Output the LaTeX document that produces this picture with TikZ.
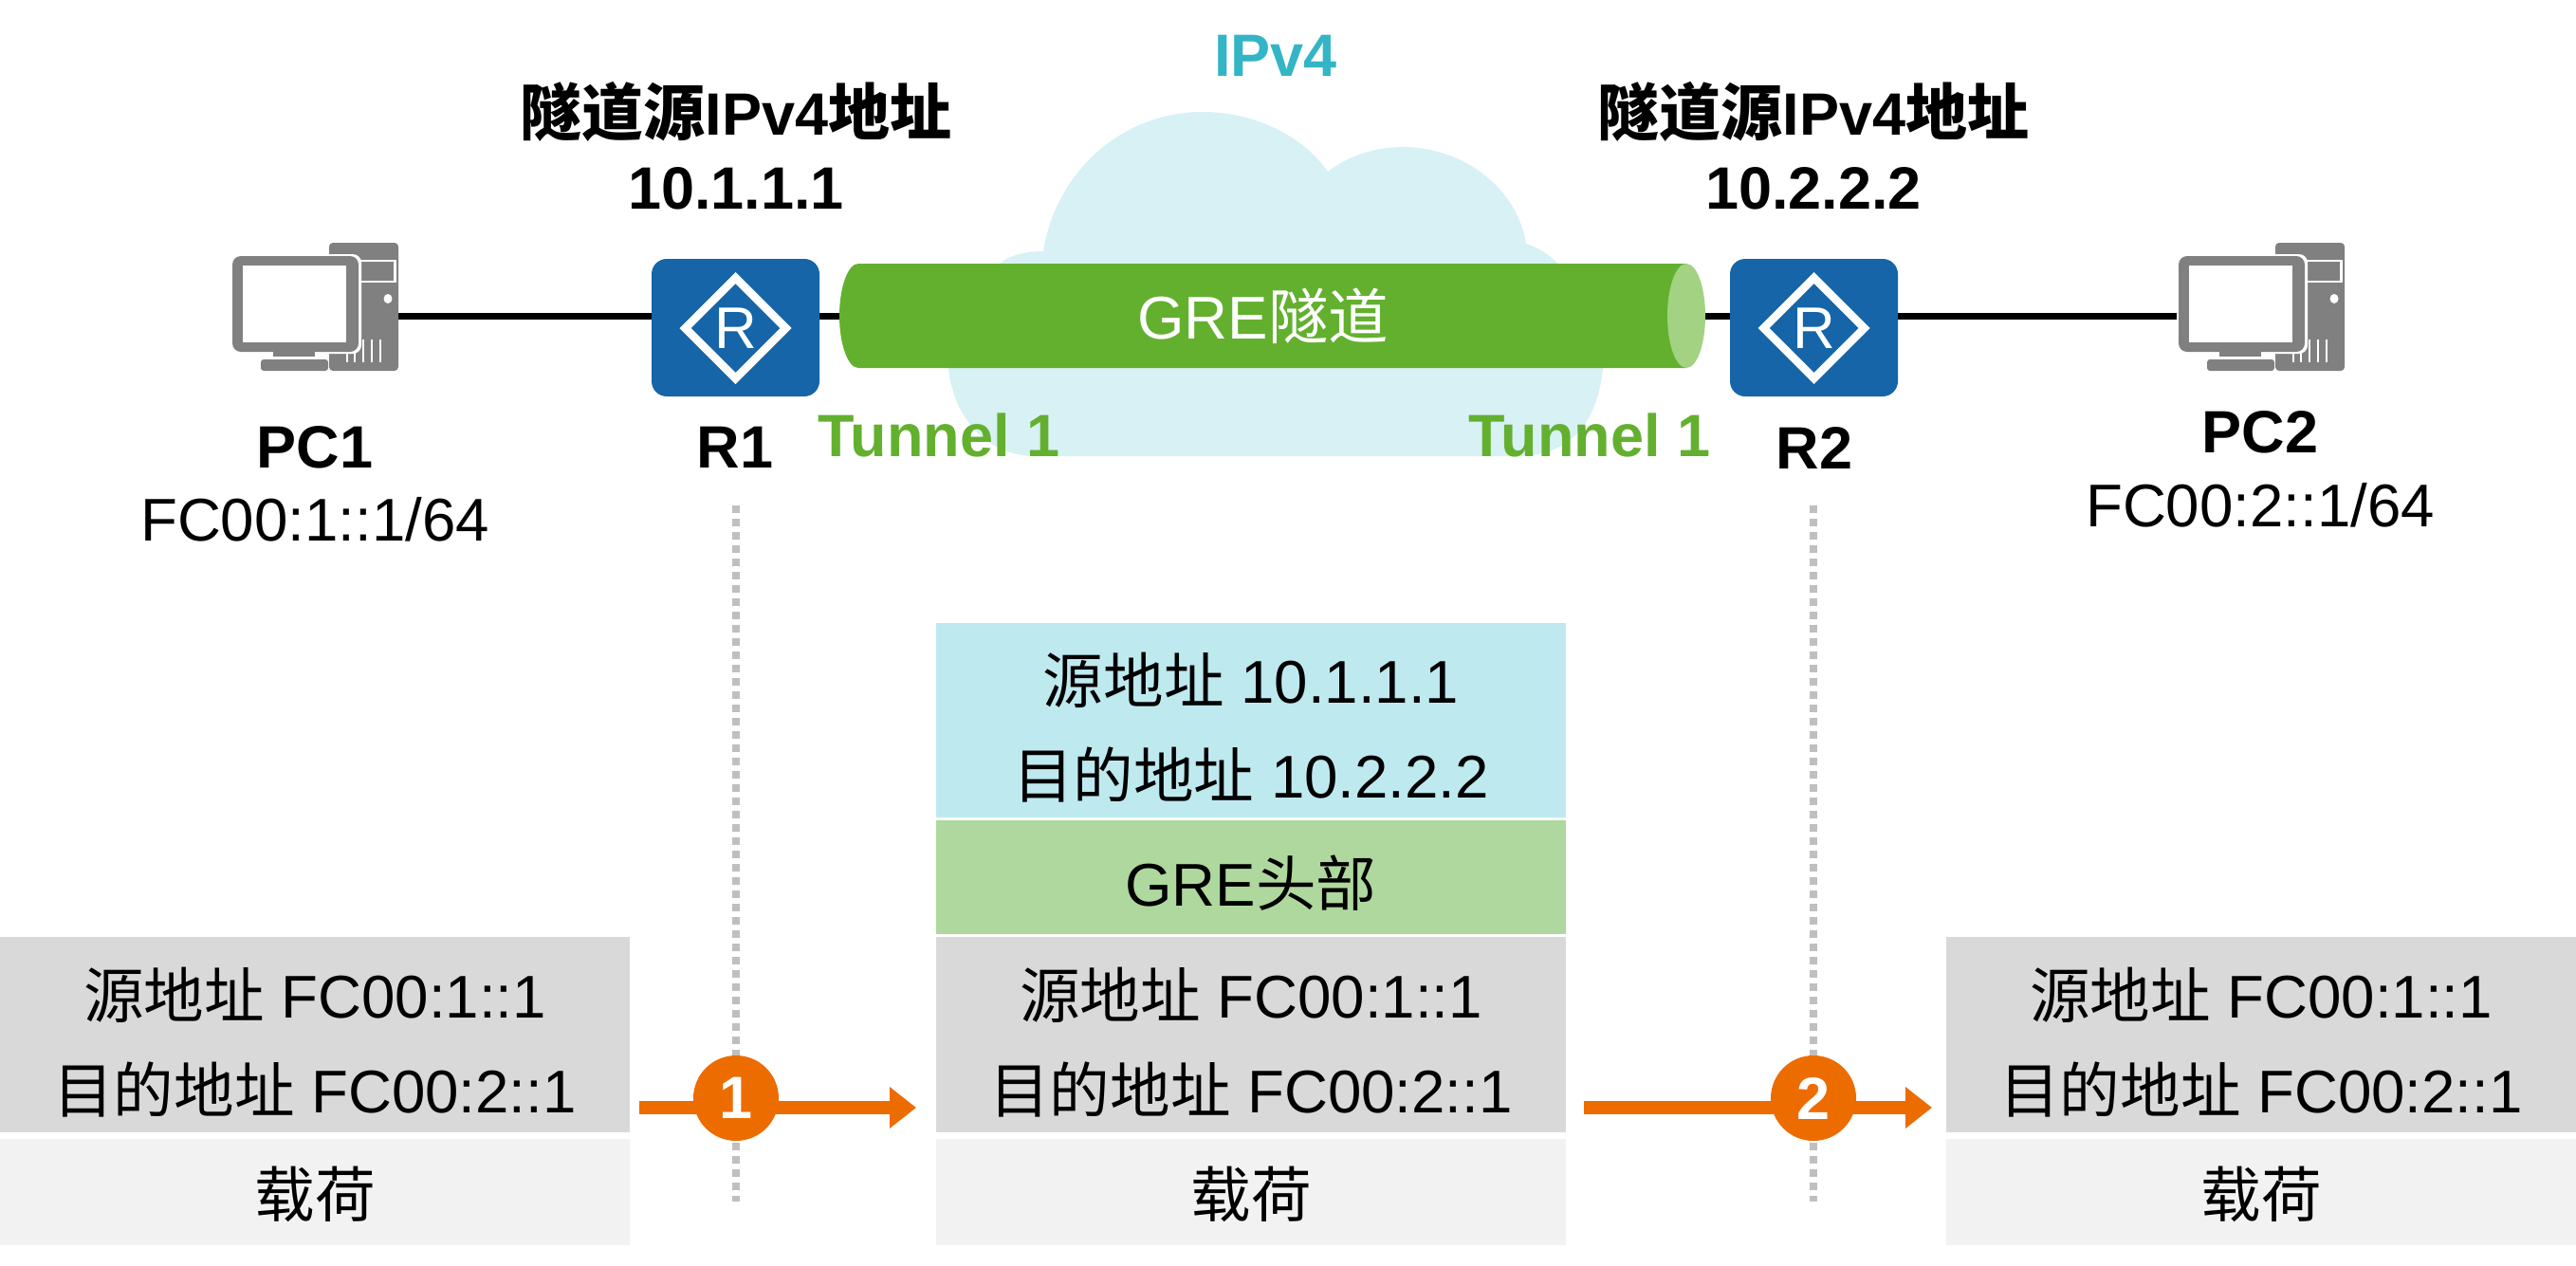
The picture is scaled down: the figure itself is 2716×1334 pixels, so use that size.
\documentclass[tikz,border=0pt]{standalone}
\usepackage{fontspec}
\setmainfont{Liberation Sans}
\newfontfamily\cjk{Noto Sans CJK SC}
\newcommand{\zh}[1]{{\cjk #1}}
\newcommand{\zhb}[1]{{\fontsize{65}{78}\selectfont\cjk #1}}
\usetikzlibrary{arrows.meta}
\definecolor{cloudc}{HTML}{D7F1F5}
\definecolor{tubec}{HTML}{63B02F}
\definecolor{tubeend}{HTML}{A3D283}
\definecolor{routerc}{HTML}{1565A8}
\definecolor{pcc}{HTML}{808080}
\definecolor{ipc}{HTML}{33B5C6}
\definecolor{hdrblue}{HTML}{BEE9EF}
\definecolor{hdrgreen}{HTML}{AED89E}
\definecolor{hdrgray}{HTML}{D9D9D9}
\definecolor{paylc}{HTML}{F2F2F2}
\definecolor{orangec}{HTML}{ED6C00}
\definecolor{dotc}{HTML}{BFBFBF}
\tikzset{
  txt/.style={inner sep=0pt,font=\fontsize{63.6}{100}\selectfont,align=center},
  boldtxt/.style={txt,font=\fontsize{63}{78}\selectfont\bfseries},
  tunnellabel/.style={boldtxt,text=tubec},
  cell/.style={inner sep=0pt,minimum width=664pt,outer sep=0pt,anchor=north},
  link/.style={line width=7pt,black},
  guide/.style={line width=8pt,dotc,dash pattern=on 8pt off 6pt},
  flow/.style={line width=14pt,orangec,-{Triangle[length=28pt,width=42pt]}},
  stepmark/.style={circle,fill=orangec,text=white,minimum size=90pt,inner sep=0pt,font=\fontsize{63}{70}\selectfont\bfseries},
  routerbox/.style={fill=routerc,rounded corners=16pt,minimum width=177pt,minimum height=145pt,inner sep=0pt},
}
\newcommand{\pcicon}[1]{%
  \begin{scope}[shift={(#1,0)}]
    \fill[pcc,rounded corners=4pt] (347,256) rectangle (420,391);
    \draw[white,line width=2.5pt] (378,275) rectangle (416.5,297);
    \fill[white] (409,315) ellipse [x radius=4.5,y radius=5];
    \foreach \vx in {366,374,383,392,401}{\draw[white,line width=2pt] (\vx,358) -- (\vx,382);}
    \fill[white,rounded corners=9pt] (243,268) rectangle (381,373);
    \fill[pcc,rounded corners=9pt] (245,270) rectangle (378,371);
    \fill[white] (256,280) rectangle (365,361);
    \fill[pcc] (288,371) rectangle (332,376);
    \fill[pcc,rounded corners=3pt] (275,391) -- (275,379) -- (346,379) -- (346,391) -- cycle;
  \end{scope}
}
\newcommand{\routericon}[2]{%
  \node[routerbox] (#2) at (#1,345.5) {};
  \draw[white,line width=8.5pt,miter limit=10] (#1-53,346) -- (#1,293) -- (#1+53,346) -- (#1,399) -- cycle;
  \node[inner sep=0pt,text=white,font=\fontsize{62}{62}\selectfont] at (#1,346) {R};
}
\begin{document}
\begin{tikzpicture}[x=1pt,y=-1pt]
\useasboundingbox (0,0) rectangle (2716,1334);
% cloud
\fill[cloudc] (1100,265) .. controls (1112,185) and (1180,118) .. (1268,118)
  .. controls (1325,118) and (1375,145) .. (1400,181)
  .. controls (1420,165) and (1450,155) .. (1478,155)
  .. controls (1545,155) and (1600,200) .. (1609,257)
  .. controls (1635,265) and (1650,285) .. (1660,300)
  .. controls (1680,320) and (1692,350) .. (1690,388)
  .. controls (1685,440) and (1660,481) .. (1600,481)
  -- (1092,481)
  .. controls (1040,481) and (1005,440) .. (1000,388)
  .. controls (1000,340) and (1030,300) .. (1054,278)
  .. controls (1065,268) and (1085,265) .. (1100,265) -- cycle;
% access links, behind the icons
\coordinate (pca) at (420,333);
\coordinate (raw) at (687,333);
\coordinate (rae) at (864,333);
\coordinate (tubew) at (885,333);
\coordinate (tubee) at (1798,333);
\coordinate (rbw) at (1824,333);
\coordinate (rbe) at (2001,333);
\coordinate (pcbw) at (2300,333);
\draw[link] (pca) -- (raw);
\draw[link] (rae) -- (tubew);
\draw[link] (tubee) -- (rbw);
\draw[link] (rbe) -- (pcbw);
% icons
\pcicon{0}
\pcicon{2052}
\routericon{775.5}{ra}
\routericon{1912.5}{rb}
% tube
\fill[tubec] (905,278) .. controls (894,278) and (885,303) .. (885,333)
  .. controls (885,363) and (894,388) .. (905,388) -- (1778,388) -- (1778,278) -- cycle;
\fill[tubeend] (1778,333) ellipse [x radius=20,y radius=55];
\node[txt,text=white] (tube) at (1332,333) {GRE\zh{隧道}};
% top labels
\node[boldtxt,text=ipc] (ipv) at (1345,59) {IPv4};
\node[boldtxt] (srca) at (776,154) {\zhb{隧道源}IPv4\zhb{地址}\\10.1.1.1};
\node[boldtxt] (srcb) at (1912,154) {\zhb{隧道源}IPv4\zhb{地址}\\10.2.2.2};
\node[tunnellabel] (ta) at (990,459) {Tunnel 1};
\node[tunnellabel] (tb) at (1676,459) {Tunnel 1};
\node[boldtxt] (lra) at (775,472) {R1};
\node[boldtxt] (lrb) at (1913,472) {R2};
\node[boldtxt] (lpa) at (332,472) {PC1};
\node[txt] (apa) at (332,548) {FC00:1::1/64};
\node[boldtxt] (lpb) at (2383,456) {PC2};
\node[txt] (apb) at (2383,533) {FC00:2::1/64};
% packets
\node[cell,fill=hdrgray,minimum height=206pt] (ha) at (332,988) {};
\node[txt] at ([yshift=-8pt]ha.center) {\zh{源地址} FC00:1::1\\\zh{目的地址} FC00:2::1};
\node[cell,fill=paylc,minimum height=112pt] (pa) at (332,1201) {};
\node[txt] at ([yshift=-2pt]pa.center) {\zh{载荷}};
\node[cell,fill=hdrblue,minimum height=205pt] (mo) at (1319,657) {};
\node[txt] at ([yshift=-8pt]mo.center) {\zh{源地址} 10.1.1.1\\\zh{目的地址} 10.2.2.2};
\node[cell,fill=hdrgreen,minimum height=120pt] (mg) at (1319,865) {};
\node[txt] at ([yshift=-6pt]mg.center) {GRE\zh{头部}};
\node[cell,fill=hdrgray,minimum height=206pt] (hm) at (1319,988) {};
\node[txt] at ([yshift=-8pt]hm.center) {\zh{源地址} FC00:1::1\\\zh{目的地址} FC00:2::1};
\node[cell,fill=paylc,minimum height=112pt] (pm) at (1319,1201) {};
\node[txt] at ([yshift=-2pt]pm.center) {\zh{载荷}};
\node[cell,fill=hdrgray,minimum height=206pt] (hb) at (2384,988) {};
\node[txt] at ([yshift=-8pt]hb.center) {\zh{源地址} FC00:1::1\\\zh{目的地址} FC00:2::1};
\node[cell,fill=paylc,minimum height=112pt] (pb) at (2384,1201) {};
\node[txt] at ([yshift=-2pt]pb.center) {\zh{载荷}};
% guides and flow
\coordinate (gat) at (776,533);
\coordinate (gab) at (776,1267);
\coordinate (gbt) at (1912,533);
\coordinate (gbb) at (1912,1267);
\draw[guide] (gat) -- (gab);
\draw[guide] (gbt) -- (gbb);
\coordinate (fas) at (674,1168);
\coordinate (fae) at (966,1168);
\coordinate (fbs) at (1670,1168);
\coordinate (fbe) at (2037,1168);
\draw[flow] (fas) -- (fae);
\draw[flow] (fbs) -- (fbe);
\node[stepmark] (na) at (776,1158) {1};
\node[stepmark] (nb) at (1912,1158) {2};
\end{tikzpicture}
\end{document}
